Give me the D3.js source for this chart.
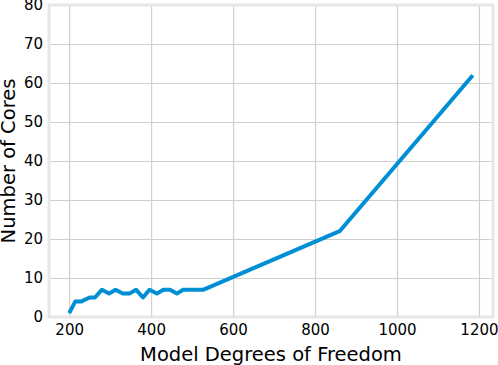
<!DOCTYPE html>
<html lang="en">
<head>
    <title>Cores vs degrees of freedom</title>
    <script src="https://d3js.org/d3.v7.min.js"></script>
    <style>
        body { margin: 0; background: #fff; }
        text { font-family: "DejaVu Sans", sans-serif; fill: #000; }
    </style>
</head>
<body>

<script>
    // values
    const dof = [200, 215, 230, 250, 263, 280, 297, 313, 331, 347, 363, 380, 396, 414, 430, 446, 463, 478, 495, 528, 860, 1185];
    const cores = [1, 4, 4, 5, 5, 7, 6, 7, 6, 6, 7, 5, 7, 6, 7, 7, 6, 7, 7, 7, 22, 62];
    const xTicks = [200, 400, 600, 800, 1000, 1200];
    const yTicks = [0, 10, 20, 30, 40, 50, 60, 70, 80];

    const width = 498, height = 365;
    const margin = {top: 5, right: 5, bottom: 48, left: 49};

    const pad = (d3.max(dof) - d3.min(dof)) * 0.05;
    const x = d3.scaleLinear()
            .domain([d3.min(dof) - pad, d3.max(dof) + pad])
            .range([margin.left, width - margin.right]);
    const y = d3.scaleLinear()
            .domain([0, 80])
            .range([height - margin.bottom, margin.top]);

    const svg = d3.select("body").append("svg")
            .attr("width", width).attr("height", height);

    // grid + tick labels
    svg.append("g")
            .attr("transform", `translate(0,${height - margin.bottom})`)
            .call(d3.axisBottom(x).tickValues(xTicks).tickFormat(d3.format("d"))
                    .tickSize(-(height - margin.top - margin.bottom)).tickPadding(7))
            .call(g => g.select(".domain").remove())
            .call(g => g.selectAll("line").attr("stroke", "#cfcfcf").attr("stroke-width", 1.2))
            .call(g => g.selectAll("text").attr("font-size", 15).attr("fill", "#000"));

    svg.append("g")
            .attr("transform", `translate(${margin.left},0)`)
            .call(d3.axisLeft(y).tickValues(yTicks)
                    .tickSize(-(width - margin.left - margin.right)).tickPadding(6))
            .call(g => g.select(".domain").remove())
            .call(g => g.selectAll("line").attr("stroke", "#cfcfcf").attr("stroke-width", 1.2))
            .call(g => g.selectAll("text").attr("font-size", 15).attr("fill", "#000"));

    // frame
    svg.append("rect")
            .attr("x", margin.left).attr("y", margin.top)
            .attr("width", width - margin.left - margin.right)
            .attr("height", height - margin.top - margin.bottom)
            .attr("fill", "none")
            .attr("stroke", "#e6e6e6")
            .attr("stroke-width", 3);

    const line = d3.line()
            .x((d, i) => x(dof[i]))
            .y(d => y(d));

    svg.append("path")
            .datum(cores)
            .attr("d", line)
            .attr("fill", "none")
            .attr("stroke", "#008fd5")
            .attr("stroke-width", 4)
            .attr("stroke-linejoin", "round");

    svg.append("text")
            .attr("x", (margin.left + width - margin.right) / 2)
            .attr("y", 361)
            .attr("text-anchor", "middle")
            .attr("font-size", 19.5)
            .text("Model Degrees of Freedom");

    svg.append("text")
            .attr("transform", `translate(15,${(margin.top + height - margin.bottom) / 2}) rotate(-90)`)
            .attr("text-anchor", "middle")
            .attr("font-size", 19.5)
            .text("Number of Cores");
</script>

</body>
</html>
